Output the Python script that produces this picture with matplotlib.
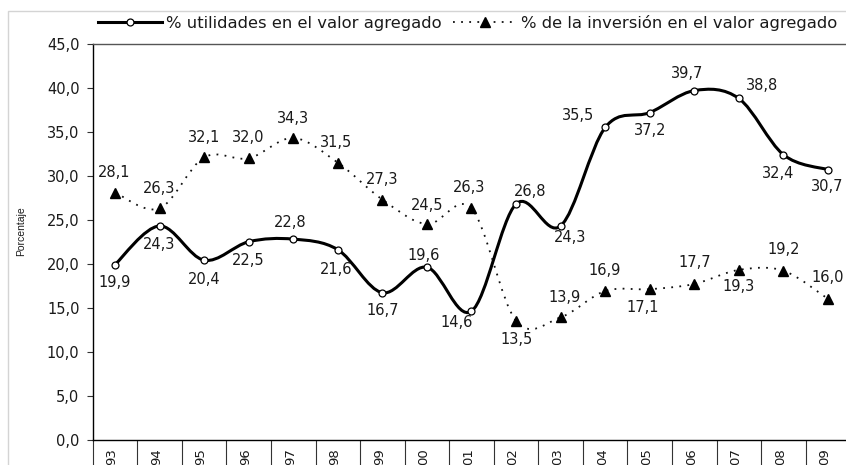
import numpy as np
import matplotlib
matplotlib.use("Agg")
import matplotlib.pyplot as plt
import matplotlib.transforms as mtransforms
from matplotlib.path import Path
from matplotlib.patches import PathPatch, Rectangle
from matplotlib.lines import Line2D

# datos
years = ['93', '94', '95', '96', '97', '98', '99', '00', '01', '02', '03',
         '04', '05', '06', '07', '08', '09']
utilidades = [19.9, 24.3, 20.4, 22.5, 22.8, 21.6, 16.7, 19.6, 14.6, 26.8, 24.3,
              35.5, 37.2, 39.7, 38.8, 32.4, 30.7]
inversion = [28.1, 26.3, 32.1, 32.0, 34.3, 31.5, 27.3, 24.5, 26.3, 13.5, 13.9,
             16.9, 17.1, 17.7, 19.3, 19.2, 16.0]
yticks = [0, 5, 10, 15, 20, 25, 30, 35, 40, 45]

# posicion de las etiquetas (offset en pixeles respecto al punto)
off_util = [(0, -18), (0, -19), (0, -19), (0, -19), (-3, 17), (-2, -20), (0, -18),
            (-3, 12), (-15, -11), (14, 12), (9, -12), (-27, 12), (0, -18),
            (-7, 17), (23, 13), (-5, -19), (-1, -17)]
off_inv = [(-1, 20), (0, 20), (0, 20), (0, 21), (0, 20), (-2, 20), (0, 20),
           (0, 19), (-2, 21), (0, -19), (4, 20), (-1, 20), (-7, -18),
           (0, 21), (0, -17), (0, 21), (0, 21)]

txt_color = '#1a1a1a'
num_font = 'DejaVu Sans'


def smooth_path(x, y):
    #curva suavizada tipo Excel (Catmull-Rom -> Bezier)
    pts = np.column_stack([x, y]).astype(float)
    n = len(pts)
    verts = [pts[0]]
    codes = [Path.MOVETO]
    for i in range(n - 1):
        p0 = pts[i - 1] if i > 0 else pts[i]
        p1 = pts[i]
        p2 = pts[i + 1]
        p3 = pts[i + 2] if i + 2 < n else pts[i + 1]
        verts += [p1 + (p2 - p0) / 6, p2 - (p3 - p1) / 6, p2]
        codes += [Path.CURVE4] * 3
    return Path(verts, codes)


W, H = 846, 465
fig = plt.figure(figsize=(W / 100, H / 100), dpi=100)
fig.patch.set_facecolor('white')

# borde del area del grafico
fig.add_artist(Rectangle((8 / W, -0.1), 1.2, 1.1 - 11.5 / H, transform=fig.transFigure,
                         fill=False, ec='#d4d4d4', lw=1))

left, right, bottom, top = 92.7, 850.3, 439.5, 44
ax = fig.add_axes([left / W, 1 - bottom / H, (right - left) / W, (bottom - top) / H])

x = np.arange(len(years))
ax.set_xlim(-0.5, len(years) - 0.5)
ax.set_ylim(0, 45)

# lineas suavizadas
ax.add_patch(PathPatch(smooth_path(x, utilidades), fill=False, ec='black', lw=2.2,
                       capstyle='round', joinstyle='round', zorder=3))
ax.add_patch(PathPatch(smooth_path(x, inversion), fill=False, ec='#111111', lw=1.3,
                       ls=(0, (1, 3.5)), capstyle='butt', zorder=3))
ax.plot(x, utilidades, ls='none', marker='o', ms=5, mfc='white', mec='black', mew=0.9, zorder=4)
ax.plot(x, inversion, ls='none', marker='^', ms=6.5, mfc='black', mec='black', zorder=4)

# etiquetas de datos
for i in range(len(years)):
    ax.annotate('{:.1f}'.format(utilidades[i]).replace('.', ','), (x[i], utilidades[i]),
                xytext=off_util[i], textcoords='offset pixels', ha='center', va='center',
                fontsize=10.5, family=num_font, color=txt_color, zorder=5)
    ax.annotate('{:.1f}'.format(inversion[i]).replace('.', ','), (x[i], inversion[i]),
                xytext=off_inv[i], textcoords='offset pixels', ha='center', va='center',
                fontsize=10.5, family=num_font, color=txt_color, zorder=5)

# ejes
ax.set_yticks(yticks)
ax.set_yticklabels(['{:.1f}'.format(v).replace('.', ',') for v in yticks],
                   fontsize=10.5, family=num_font, color=txt_color)
ax.tick_params(axis='y', direction='out', length=4.5, width=0.8, color='#333333', pad=5)

ax.set_xticks(np.arange(-0.5, len(years), 1.0))
ax.set_xticklabels([])
ax.tick_params(axis='x', which='major', direction='out', length=40, width=0.8, color='#333333')
ax.set_xticks(x, minor=True)
ax.set_xticklabels(years, minor=True, rotation=90, fontsize=9.5, family=num_font,
                   color=txt_color, va='top', ha='center')
ax.tick_params(axis='x', which='minor', length=0, pad=6)
shift = mtransforms.ScaledTranslation(-3 / 100, 0, fig.dpi_scale_trans)
for lab in ax.get_xticklabels(minor=True):
    lab.set_transform(lab.get_transform() + shift)

for s in ['left', 'bottom']:
    ax.spines[s].set_color('black')
    ax.spines[s].set_linewidth(1)
ax.spines['top'].set_color('#555555')
ax.spines['top'].set_linewidth(1)
ax.spines['right'].set_visible(False)

fig.text(21 / W, 1 - 231.5 / H, 'Porcentaje', rotation=90, ha='center', va='center',
         fontsize=7.5, family='Liberation Sans', color=txt_color)

# leyenda
h1 = Line2D([], [], color='black', lw=2.2, marker='o', ms=5, mfc='white', mec='black', mew=0.9)
h2 = Line2D([], [], color='#111111', lw=1.3, ls=(0, (1, 3.5)), marker='^', ms=6.5,
            mfc='black', mec='black')
fig.legend([h1, h2], ['% utilidades en el valor agregado', '% de la inversión en el valor agregado'],
           loc='center left', bbox_to_anchor=(98 / W, 1 - 23 / H), ncol=2, frameon=False,
           borderpad=0, borderaxespad=0, handlelength=3.9, handletextpad=0.25,
           columnspacing=0.7, numpoints=1, prop={'family': num_font, 'size': 11.8},
           labelcolor=txt_color)

fig.savefig('out.png', dpi=100)
